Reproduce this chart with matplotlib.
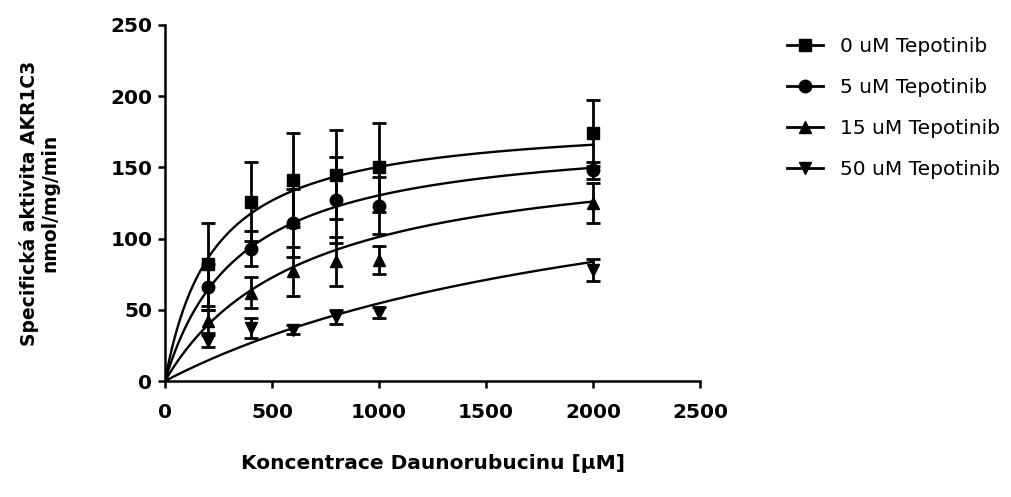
import numpy as np
import matplotlib
matplotlib.use("Agg")
import matplotlib.pyplot as plt

plt.rcParams['font.family'] = ['DejaVu Sans']

# ---- data ----
conc = [200, 400, 600, 800, 1000, 2000]
labels = ["0 uM Tepotinib", "5 uM Tepotinib", "15 uM Tepotinib", "50 uM Tepotinib"]
markers = ["s", "o", "^", "v"]

act_0 = [82, 126, 141, 145, 150, 174]
err_0 = [29, 28, 33, 31, 31, 23]
act_5 = [66, 93, 111, 127, 123, 148]
err_5 = [16, 12, 24, 30, 20, 6]
act_15 = [42, 62, 77, 84, 85, 125]
err_15 = [8, 11, 17, 17, 10, 14]
act_50 = [28, 37, 36, 45, 48, 78]
err_50 = [4, 7, 3, 5, 4, 8]

# Michaelis-Menten fit parameters (Vmax, Km)
vmax = [185, 176, 167, 180]
km = [230, 350, 650, 2300]

acts = [act_0, act_5, act_15, act_50]
errs = [err_0, err_5, err_15, err_50]

xticks = [0, 500, 1000, 1500, 2000, 2500]
yticks = [0, 50, 100, 150, 200, 250]

# ---- figure ----
fig = plt.figure(figsize=(10.12, 4.97), dpi=100)
ax = fig.add_axes([0.163, 0.2334, 0.529, 0.7163])

xfit = np.linspace(0, max(conc), 400)
handles = []
for a, e, m, lab, vm, k in zip(acts, errs, markers, labels, vmax, km):
    ax.plot(xfit, vm * xfit / (k + xfit), color='black', lw=1.7, zorder=2)
    ax.errorbar(conc, a, yerr=e, fmt=m, color='black', ms=9,
                elinewidth=2.0, capsize=5, capthick=2.0, zorder=3)
    h, = ax.plot([], [], color='black', marker=m, ms=9, lw=2.0, label=lab)
    handles.append(h)

ax.set_xlim(0, 2500)
ax.set_ylim(0, 250)
ax.set_xticks(xticks)
ax.set_yticks(yticks)
for s in ['top', 'right']:
    ax.spines[s].set_visible(False)
for s in ['left', 'bottom']:
    ax.spines[s].set_linewidth(1.8)
ax.tick_params(direction='out', length=5, width=1.8, labelsize=14.5, pad=4)
ax.tick_params(axis='x', pad=11)
for t in ax.get_xticklabels() + ax.get_yticklabels():
    t.set_fontweight('bold')

ax.set_xlabel("Koncentrace Daunorubucinu [μM]", fontsize=14.5, fontweight='bold')
ax.xaxis.set_label_coords(0.5, -0.205)
ax.set_ylabel("Specifická aktivita AKR1C3\nnmol/mg/min", fontsize=13.5, fontweight='bold',
              linespacing=1.1)
ax.yaxis.set_label_coords(-0.197, 0.5)

fig.legend(handles=handles, loc='upper left', bbox_to_anchor=(0.76, 0.962),
           frameon=False, fontsize=14.5, handlelength=1.8, labelspacing=1.1,
           handletextpad=0.8)

fig.savefig("out.png", dpi=100)
